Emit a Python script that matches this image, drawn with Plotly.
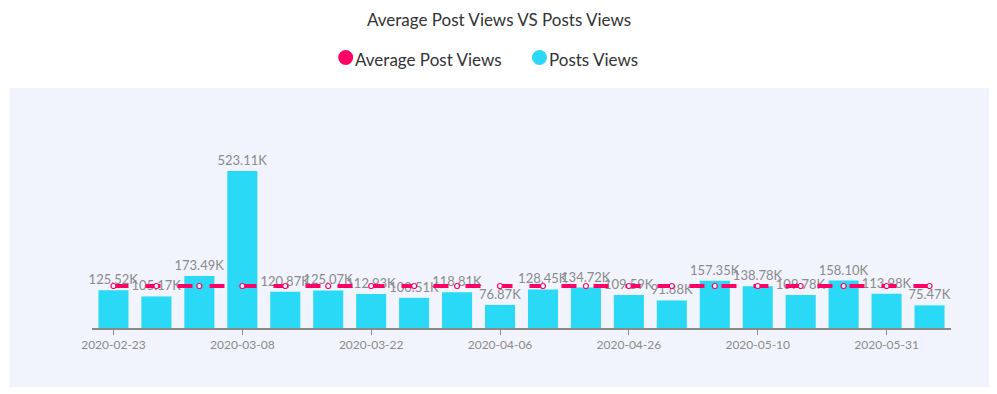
import plotly.graph_objects as go

dates = ["2020-02-23", "2020-02-28", "2020-03-03", "2020-03-08", "2020-03-12",
         "2020-03-17", "2020-03-22", "2020-03-27", "2020-04-01", "2020-04-06",
         "2020-04-13", "2020-04-19", "2020-04-26", "2020-05-01", "2020-05-05",
         "2020-05-10", "2020-05-17", "2020-05-24", "2020-05-31", "2020-06-07"]
post_views = [125520, 105170, 173490, 523110, 120870, 125070, 112930, 100510, 118810, 76870,
              128450, 134720, 109590, 91880, 157350, 138780, 109780, 158100, 113980, 75470]
avg_views = [140023, 140023, 140023, 140023, 140023, 140023, 140023, 140023, 140023, 140023,
             140023, 140023, 140023, 140023, 140023, 140023, 140023, 140023, 140023, 140023]
tick_dates = ["2020-02-23", "2020-03-08", "2020-03-22", "2020-04-06",
              "2020-04-26", "2020-05-10", "2020-05-31"]
series_names = ["Average Post Views", "Posts Views"]

PINK = "#ff0066"
CYAN = "#2ad9f5"
GRAY = "#8a8a8a"
DARK = "#333333"
FONT = "Lato"

labels = [f"{v/1000:.2f}K" for v in post_views]

# page has an 8px body margin; figure coordinates = page coordinates - 8
OFF = 8
W, H = 989, 386
L, R, T, B = 91.5 - OFF, 951.5 - OFF, 100 - OFF, 328 - OFF
pw, ph = R - L, B - T


def px_x(p):
    return (p - OFF - L) / pw


def px_y(p):
    return (B - (p - OFF)) / ph


fig = go.Figure()
fig.add_trace(go.Bar(
    x=dates, y=post_views, name=series_names[1],
    marker=dict(color=CYAN, line=dict(width=0)),
    text=labels, textposition="outside", cliponaxis=False, constraintext="none",
    textfont=dict(color=GRAY, size=13, family=FONT),
    showlegend=False,
))
fig.add_trace(go.Scatter(
    x=dates, y=avg_views, name=series_names[0], mode="lines+markers",
    line=dict(color=PINK, width=4, dash="15px,17px"),
    marker=dict(symbol="circle", size=5, color="white", line=dict(color=PINK, width=1.2)),
    showlegend=False, cliponaxis=False,
))

# background panel
fig.add_shape(type="rect", xref="paper", yref="paper",
              x0=px_x(9), x1=px_x(990), y0=px_y(387), y1=px_y(88),
              fillcolor="#f1f4fc", line=dict(width=0), layer="below")

# legend (circle + text), centered on top
legend_items = [(series_names[0], PINK, 345.5, 353), (series_names[1], CYAN, 539.5, 547)]
for name, col, cx, tx in legend_items:
    fig.add_shape(type="circle", xref="paper", yref="paper",
                  xsizemode="pixel", ysizemode="pixel",
                  xanchor=px_x(cx), yanchor=px_y(57.5),
                  x0=-7.5, x1=7.5, y0=-7.5, y1=7.5,
                  fillcolor=col, line=dict(width=0))
    fig.add_annotation(text=name, xref="paper", yref="paper",
                       x=px_x(tx), y=px_y(60), xanchor="left", yanchor="middle",
                       showarrow=False, font=dict(size=17, color=DARK, family=FONT))

fig.update_layout(
    width=W, height=H,
    margin=dict(l=L, r=W - R, t=T, b=H - B, autoexpand=False),
    paper_bgcolor="white", plot_bgcolor="rgba(0,0,0,0)",
    font=dict(family=FONT, color=DARK),
    title=dict(text="Average Post Views VS Posts Views", x=px_x(499), xref="paper",
               xanchor="center", y=1 - (20 - OFF) / H, yanchor="middle",
               font=dict(size=17, color=DARK, family=FONT)),
    bargap=0.3,
    showlegend=False,
)
fig.update_xaxes(
    type="category", range=[-0.5, 19.5],
    tickmode="array", tickvals=tick_dates, ticktext=tick_dates,
    showline=True, linecolor=GRAY, linewidth=1.5,
    ticks="outside", ticklen=5, tickcolor=GRAY, tickwidth=1,
    tickfont=dict(color=GRAY, size=12, family=FONT),
    showgrid=False, zeroline=False,
)
fig.update_yaxes(range=[0, 760000], visible=False, showgrid=False, zeroline=False)

fig.write_html("out.html")
